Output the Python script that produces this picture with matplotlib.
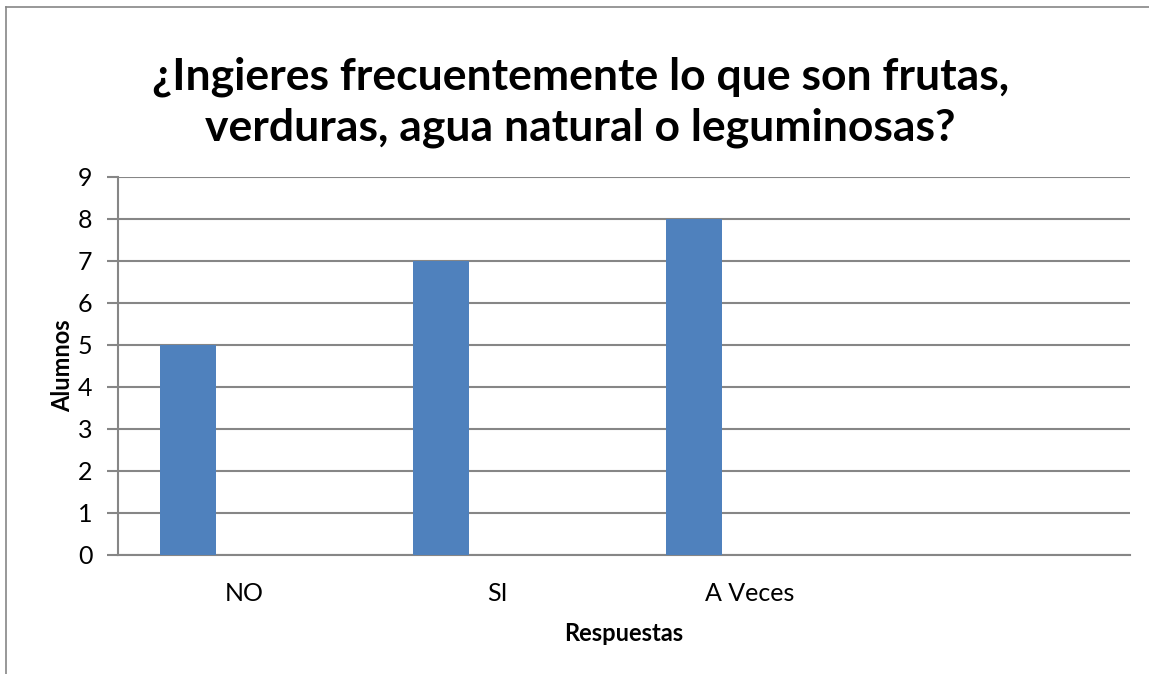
import numpy as np
import matplotlib.pyplot as plt
from matplotlib.lines import Line2D

# ============================================================
# DATA
# ============================================================

categories = ["NO", "SI", "A Veces", ""]
alumnos = [5, 7, 8, 0]
y_ticks = list(range(0, 10))

title = "¿Ingieres frecuentemente lo que son frutas,\nverduras, agua natural o leguminosas?"

# ============================================================
# STYLE
# ============================================================

plt.rcParams["font.family"] = ["Lato", "DejaVu Sans"]
bar_color = "#4F81BD"
grid_color = "#868686"

fig = plt.figure(figsize=(11.49, 6.74), dpi=100)
ax = fig.add_axes([117.5 / 1149, 1 - 554.5 / 674, 1012 / 1149, 377.5 / 674])

x = np.arange(len(categories))
ax.bar(x - 0.2215, alumnos, width=0.221, color=bar_color, zorder=3)

ax.set_xlim(-0.5, len(categories) - 0.5)
ax.set_ylim(0, 9)
ax.set_yticks(y_ticks)
ax.set_xticks(x)
ax.set_xticklabels(categories)

ax.grid(axis="y", color=grid_color, linewidth=1.5, zorder=0)
for side in ["top", "right"]:
    ax.spines[side].set_visible(False)
for side in ["left", "bottom"]:
    ax.spines[side].set_color(grid_color)
    ax.spines[side].set_linewidth(1.5)

ax.tick_params(axis="y", length=8, width=1.5, color=grid_color, labelsize=18, pad=10)
ax.tick_params(axis="x", length=0, labelsize=18, pad=20)

ax.set_xlabel("Respuestas", fontsize=17, fontweight="bold", labelpad=12)
ax.set_ylabel("Alumnos", fontsize=17, fontweight="bold", labelpad=3)

fig.text(0.505, 1 - 102 / 674, title, ha="center", va="center",
         fontsize=32, fontweight="bold", linespacing=1.32)

# chart frame (top and left edges visible)
fig.add_artist(Line2D([5.5 / 1149, 1], [1 - 6.5 / 674] * 2, color=grid_color, lw=1.2))
fig.add_artist(Line2D([5.5 / 1149] * 2, [0, 1 - 6.5 / 674], color=grid_color, lw=1.2))

fig.savefig("out.png", dpi=100)
